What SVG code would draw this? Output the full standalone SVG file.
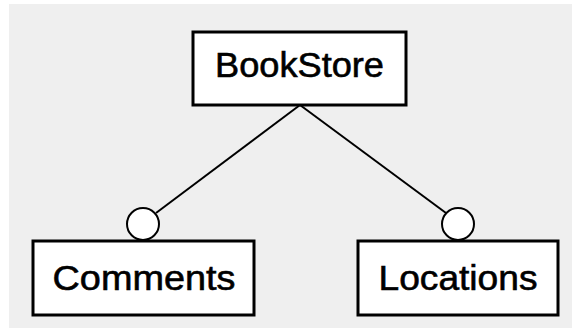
<svg xmlns="http://www.w3.org/2000/svg" width="572" height="328" viewBox="0 0 572 328">
  <style>
    .box { fill: #ffffff; stroke: #000000; stroke-width: 3; }
    .lbl { font-family: "Liberation Sans", Arial, sans-serif; font-size: 35px; fill: #000000; stroke: #000000; stroke-width: 0.6; text-anchor: middle; }
    .edge { stroke: #000000; stroke-width: 2; fill: none; }
    .opt { fill: #ffffff; stroke: #000000; stroke-width: 2; }
  </style>
  <rect x="0" y="0" width="572" height="328" fill="#ffffff"/>
  <rect x="9" y="4" width="563" height="324" fill="#efefef"/>

  <g id="connectors">
    <line class="edge" x1="300" y1="105" x2="156" y2="213"/>
    <line class="edge" x1="300" y1="105" x2="446" y2="213"/>
    <circle class="opt" cx="143" cy="224" r="16"/>
    <circle class="opt" cx="458" cy="224" r="16"/>
  </g>

  <g id="bookstore">
    <rect class="box" x="193" y="32" width="213" height="73"/>
    <text class="lbl" x="299.5" y="77" textLength="169" lengthAdjust="spacingAndGlyphs">BookStore</text>
  </g>

  <g id="comments">
    <rect class="box" x="33" y="241" width="221" height="74"/>
    <text class="lbl" x="144" y="290" textLength="183" lengthAdjust="spacingAndGlyphs">Comments</text>
  </g>

  <g id="locations">
    <rect class="box" x="358" y="241" width="200" height="74"/>
    <text class="lbl" x="458" y="290" textLength="159" lengthAdjust="spacingAndGlyphs">Locations</text>
  </g>
</svg>
